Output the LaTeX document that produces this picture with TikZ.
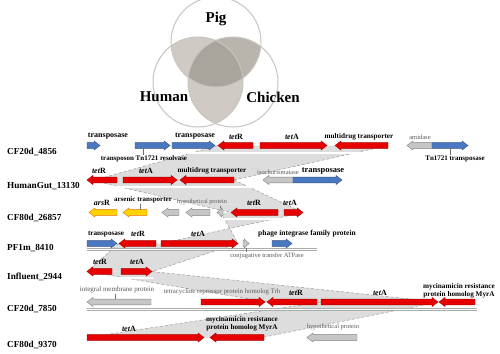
\documentclass[tikz,border=0pt]{standalone}
\usepackage{fontspec}
\setmainfont{Liberation Serif}
\usetikzlibrary{calc}
\definecolor{gred}{HTML}{E60000}
\definecolor{gblue}{HTML}{4A78C0}
\definecolor{gyellow}{HTML}{FFD200}
\definecolor{ggrey}{HTML}{C6C6C6}
\definecolor{gline}{HTML}{ABABAB}
\definecolor{gshade}{HTML}{DDDDDD}
\definecolor{gedge}{HTML}{9A9A9A}
\definecolor{vring}{HTML}{C8C4BE}
\definecolor{vpair}{HTML}{CFCBC4}
\definecolor{vpairdark}{HTML}{B9B5AD}
\definecolor{vtriple}{HTML}{A9A59D}
\tikzset{
  rg/.style={fill=gred, draw=gred!75!black, line width=0.4pt},
  bg/.style={fill=gblue, draw=gblue!70!black, line width=0.4pt},
  yg/.style={fill=gyellow, draw=orange!90!black, line width=0.4pt},
  gg/.style={fill=ggrey, draw=black!50, line width=0.4pt},
  track/.style={draw=gline, double=white, double distance=1.3pt, line width=0.6pt},
  homol/.style={fill=gshade},
  hedge/.style={draw=gedge, line width=0.5pt, dash pattern=on 3pt off 2pt},
  seqname/.style={font=\bfseries\fontsize{9.2}{10}\selectfont, anchor=west, inner sep=0pt},
  lab/.style={font=\bfseries\fontsize{7.2}{7.6}\selectfont, inner sep=0.5pt, align=center},
  biglab/.style={font=\bfseries\fontsize{8}{9}\selectfont, inner sep=0.5pt},
  glab/.style={font=\fontsize{6.5}{7}\selectfont, text=black!65, inner sep=0.5pt},
  leader/.style={draw=black!55, line width=0.4pt},
  venn/.style={font=\bfseries\fontsize{15}{16}\selectfont},
}
% gene arrow: style, tail x, tip x, centre y
\newcommand{\gene}[4]{%
  \pgfmathsetmacro\hl{sign(#3-#2)*min(6,0.8*abs(#3-#2))}%
  \pgfmathsetmacro\xh{#3-\hl}%
  \draw[#1] (#2,#4-2.9) -- (\xh,#4-2.9) -- (\xh,#4-4.6) -- (#3,#4)
    -- (\xh,#4+4.6) -- (\xh,#4+2.9) -- (#2,#4+2.9) -- cycle;}
\newcommand{\tetg}[1]{\textit{tet}#1}

\begin{document}
\begin{tikzpicture}[x=1pt, y=-1pt]
  \useasboundingbox[fill=white] (0,0) rectangle (500,353);
  % venn of the three hosts
  \begin{scope}
    \clip (216,42) circle (45pt);
    \fill[vpair] (198,82) circle (45pt);
    \fill[vpairdark] (233,82) circle (45pt);
  \end{scope}
  \begin{scope}
    \clip (198,82) circle (45pt);
    \fill[vpair] (233,82) circle (45pt);
    \clip (233,82) circle (45pt);
    \fill[vtriple] (216,42) circle (45pt);
  \end{scope}
  \foreach \cx/\cy in {216/42, 198/82, 233/82}
    \draw[vring, line width=1pt] (\cx,\cy) circle (45pt);
  \node[venn] (pig) at (216,19) {Pig};
  \node[venn] (human) at (164,97) {Human};
  \node[venn] (chicken) at (273,97) {Chicken};

  % shaded homology between neighbouring sequences
  \foreach \ta/\tb/\ya/\ba/\bb/\yb in {218/388/145.5/95/234/180, 90/234/180/231/303/212.5,
      221/303/212.5/238/161/243.5, 119/238/243.5/87/152/271.5,
      87/152/271.5/267/438/302, 321/438/302/87/262/337.5}
    { \fill[homol] (\ta,\ya) -- (\tb,\ya) -- (\bb,\yb) -- (\ba,\yb) -- cycle;
      \draw[hedge] (\ta,\ya) -- (\ba,\yb);
      \draw[hedge] (\tb,\ya) -- (\bb,\yb); }

  % sequence names and backbones
  \foreach \n/\y/\e/\s in {1/153/478/CF20d\_4856, 2/187/345/HumanGut\_13130, 3/219/307/CF80d\_26857,
      4/249.5/317/PF1m\_8410, 5/278/153/Influent\_2944, 6/309.5/477/CF20d\_7850, 7/346/357/CF80d\_9370}
    { \node[seqname] (t\n) at (7,\y-1) {\s};
      \draw[track] (87,\y) -- (\e,\y); }

  % CF20d_4856
  \foreach \a/\b/\st in {87/100/bg, 135/170/bg, 172/215/bg, 253/218/rg, 260/327/rg, 388/335/rg, 432/407/gg, 432/468/bg}
    { \gene{\st}{\a}{\b}{145.5} }
  \node[biglab] (l1a) at (108,136.5) {transposase};
  \node[biglab] (l1b) at (195,136.5) {transposase};
  \node[biglab] (l1c) at (236,136.5) {\tetg{R}};
  \node[biglab] (l1d) at (292,136.5) {\tetg{A}};
  \node[lab] (l1e) at (359,137) {multidrug transporter};
  \node[glab] (l1f) at (420,137) {amidase};
  \node[lab, font=\bfseries\fontsize{7}{7.5}\selectfont] (l1g) at (144,159) {transposon Tn1721 resolvase};
  \node[lab, font=\bfseries\fontsize{7}{7.5}\selectfont] (l1h) at (455,159) {Tn1721 transposase};
  \draw[leader] (l1g.north -| 143,0) -- (143,148.4);
  \draw[leader] (l1h.north -| 450,0) -- (450,148.4);

  % HumanGut_13130
  \foreach \a/\b/\st in {117/87/rg, 123/177/rg, 234/180/rg, 293/263/gg, 293/342/bg}
    { \gene{\st}{\a}{\b}{180} }
  \node[biglab] (l2a) at (99,170.5) {\tetg{R}};
  \node[biglab] (l2b) at (146,170.5) {\tetg{A}};
  \node[lab] (l2c) at (212,171) {multidrug transporter};
  \node[glab] (l2d) at (278,172) {isochorismatase};
  \node[biglab, font=\bfseries\fontsize{8.5}{9}\selectfont] (l2e) at (323,171) {transposase};

  % CF80d_26857
  \foreach \a/\b/\st in {117/89/yg, 147/123/yg, 179/162/gg, 210/186/gg, 223/217/gg, 278/231/rg, 284/303/rg}
    { \gene{\st}{\a}{\b}{212.5} }
  \node[biglab] (l3a) at (102,202.5) {\textit{ars}R};
  \node[lab, font=\bfseries\fontsize{7}{7.5}\selectfont] (l3b) at (143,200) {arsenic transporter};
  \node[glab, font=\fontsize{6.2}{7}\selectfont] (l3c) at (202,202) {hypothetical protein};
  \node[biglab] (l3d) at (254,202.5) {\tetg{R}};
  \node[biglab] (l3e) at (290,202.5) {\tetg{A}};
  \draw[leader] (l3b.south -| 140,0) -- (140,209.6);
  \draw[leader] (l3c.south -| 220,0) -- (220,208);

  % PF1m_8410
  \foreach \a/\b/\st in {87/117/bg, 156/119/rg, 161/238/rg, 243/249/gg, 272/292/bg}
    { \gene{\st}{\a}{\b}{243.5} }
  \node[lab] (l4a) at (106,234) {transposase};
  \node[biglab] (l4b) at (138,233.5) {\tetg{R}};
  \node[biglab] (l4c) at (198,233.5) {\tetg{A}};
  \node[lab, font=\bfseries\fontsize{7.5}{8}\selectfont] (l4d) at (307,234) {phage integrase family protein};
  \node[glab] (l4e) at (267,256) {conjugative transfer ATPase};
  \draw[leader] (l4e.north -| 246,0) -- (246,248);

  % Influent_2944
  \foreach \a/\b/\st in {112/87/rg, 121/152/rg}
    { \gene{\st}{\a}{\b}{271.5} }
  \node[biglab] (l5a) at (100,261.5) {\tetg{R}};
  \node[biglab] (l5b) at (137,261.5) {\tetg{A}};

  % CF20d_7850
  \foreach \a/\b/\st in {151/87/gg, 201/265/rg, 317/267/rg, 321/438/rg, 475/439/rg}
    { \gene{\st}{\a}{\b}{302} }
  \node[glab, font=\fontsize{7}{7.5}\selectfont] (l6a) at (117,290) {integral membrane protein};
  \node[glab, font=\fontsize{6.8}{7.5}\selectfont] (l6b) at (222,292) {tetracycline repressor protein homolog Trh};
  \node[biglab] (l6c) at (296,292.5) {\tetg{R}};
  \node[biglab] (l6d) at (380,292.5) {\tetg{A}};
  \node[lab] (l6e) at (459,290.5) {mycinamicin resistance\\protein homolog MyrA};
  \draw[leader] (l6a.south -| 115,0) -- (115,299.1);

  % CF80d_9370
  \foreach \a/\b/\st in {87/204/rg, 264/210/rg, 357/307/gg}
    { \gene{\st}{\a}{\b}{337.5} }
  \node[biglab] (l7a) at (129,328.5) {\tetg{A}};
  \node[lab] (l7b) at (242,324) {mycinamicin resistance\\protein homolog MyrA};
  \node[glab] (l7c) at (333,327) {hypothetical protein};
\end{tikzpicture}
\end{document}
